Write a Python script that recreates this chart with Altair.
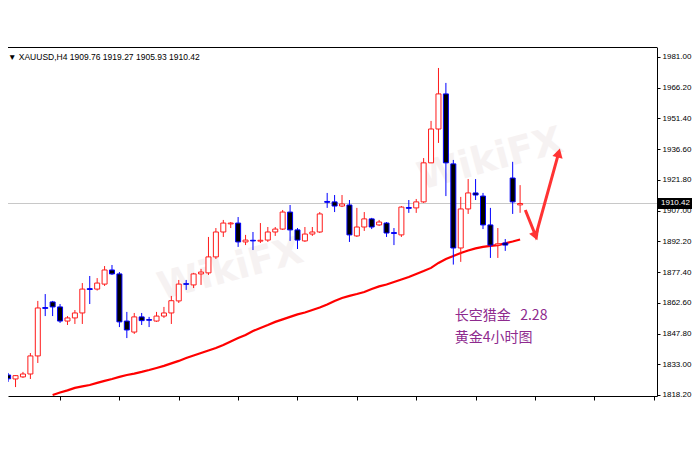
import altair as alt
import pandas as pd

# ---- data ----
opens = [1831.2, 1827.8, 1825.9, 1826.9, 1828.3, 1837.0, 1860.3, 1863.0, 1860.6, 1853.8,
         1855.3, 1857.7, 1869.4, 1869.2, 1871.6, 1878.4, 1876.5, 1853.8, 1848.5, 1855.8,
         1854.5, 1853.8, 1856.2, 1857.7, 1863.5, 1871.8, 1871.2, 1876.5, 1877.0, 1884.7,
         1896.7, 1900.6, 1901.0, 1891.9, 1892.7, 1892.3, 1892.8, 1896.7, 1898.1, 1906.3,
         1897.7, 1892.4, 1895.7, 1896.7, 1911.4, 1911.2, 1909.2, 1909.7, 1894.8, 1899.1,
         1903.0, 1900.1, 1901.0, 1896.4, 1895.3, 1908.5, 1908.3, 1911.2, 1930.0, 1946.3,
         1963.2, 1929.5, 1889.0, 1907.8, 1915.5, 1914.0, 1900.1, 1890.4, 1891.4, 1922.7,
         1909.76]
highs = [1831.7, 1828.8, 1827.8, 1829.3, 1838.4, 1863.5, 1866.8, 1863.5, 1862.0, 1856.2,
         1859.1, 1872.1, 1875.5, 1874.5, 1880.3, 1880.8, 1877.4, 1858.2, 1857.7, 1857.7,
         1855.8, 1858.2, 1860.6, 1865.9, 1873.6, 1873.6, 1877.0, 1878.9, 1894.3, 1898.6,
         1902.5, 1901.5, 1903.9, 1895.3, 1896.7, 1901.0, 1899.1, 1899.1, 1907.3, 1909.7,
         1898.6, 1899.1, 1899.1, 1906.3, 1915.5, 1914.5, 1914.5, 1912.1, 1908.3, 1906.3,
         1903.5, 1902.5, 1901.5, 1898.6, 1909.2, 1912.1, 1912.6, 1932.3, 1950.2, 1975.7,
         1968.5, 1931.4, 1913.6, 1922.2, 1922.2, 1915.5, 1908.3, 1898.6, 1893.3, 1930.5,
         1919.27]
lows = [1826.4, 1824.5, 1822.0, 1826.4, 1825.9, 1833.6, 1856.2, 1856.2, 1852.9, 1851.9,
        1852.4, 1852.4, 1862.0, 1868.5, 1870.7, 1876.0, 1850.9, 1845.6, 1847.6, 1851.9,
        1850.9, 1853.4, 1855.3, 1852.4, 1862.5, 1868.8, 1869.7, 1871.2, 1876.0, 1883.7,
        1894.3, 1898.6, 1889.5, 1890.4, 1888.0, 1891.4, 1891.9, 1894.8, 1897.7, 1892.4,
        1888.5, 1891.9, 1894.8, 1896.2, 1908.3, 1906.3, 1908.7, 1891.9, 1894.3, 1897.2,
        1898.1, 1899.6, 1894.3, 1890.4, 1894.3, 1905.9, 1905.9, 1910.7, 1929.9, 1939.6,
        1914.0, 1881.0, 1882.3, 1905.4, 1912.1, 1898.1, 1884.2, 1884.2, 1887.6, 1905.4,
        1905.93]
closes = [1827.3, 1826.0, 1827.5, 1828.3, 1837.0, 1860.1, 1859.9, 1860.6, 1853.8, 1855.3,
          1857.7, 1869.2, 1869.0, 1872.1, 1878.4, 1876.5, 1853.4, 1849.5, 1855.8, 1854.0,
          1854.2, 1856.2, 1857.7, 1863.6, 1871.6, 1871.5, 1876.5, 1877.4, 1884.7, 1896.7,
          1901.0, 1901.0, 1891.9, 1892.8, 1892.4, 1892.7, 1896.7, 1898.1, 1906.3, 1897.7,
          1892.8, 1895.7, 1896.7, 1905.4, 1911.0, 1909.2, 1910.2, 1895.3, 1899.1, 1903.0,
          1899.1, 1901.5, 1896.2, 1896.0, 1908.7, 1908.1, 1911.2, 1930.0, 1946.3, 1963.2,
          1930.0, 1889.0, 1907.8, 1915.5, 1914.5, 1900.1, 1890.4, 1891.0, 1890.4, 1911.2,
          1910.42]

ma_start = 7
ma_vals = [1818.2, 1819.4, 1820.4, 1821.6, 1822.3, 1823.0, 1824.0, 1825.0, 1825.9, 1826.9,
           1827.8, 1828.5, 1829.3, 1830.2, 1831.2, 1832.2, 1833.4, 1834.6, 1836.0, 1837.2,
           1838.4, 1839.6, 1840.8, 1842.3, 1844.0, 1845.6, 1847.1, 1849.0, 1850.5, 1851.9,
           1853.4, 1854.6, 1855.8, 1857.0, 1857.9, 1859.1, 1860.3, 1861.8, 1863.5, 1864.9,
           1865.9, 1866.8, 1867.8, 1869.2, 1870.5, 1871.4, 1872.6, 1873.8, 1875.0, 1876.5,
           1877.9, 1879.4, 1881.8, 1883.7, 1885.1, 1886.6, 1887.8, 1888.8, 1889.5, 1890.0,
           1890.4, 1891.2, 1892.1, 1893.1]

y_ticks = [1818.2, 1833.0, 1847.8, 1862.6, 1877.4, 1892.2, 1907.0, 1921.8, 1936.6,
           1951.4, 1966.2, 1981.0]
x_ticks = [8, 16, 24, 32, 40, 48, 56, 64, 72, 80, 88]
last_price = 1910.42
title_text = "▼ XAUUSD,H4  1909.76 1919.27 1905.93 1910.42"

arrow_x = [70.7, 72.1, 75.2]
arrow_y = [1907.3, 1894.8, 1934.8]
head_angles = [158, 15]

note_lines = ["长空猎金\u00a0\u00a0\u00a02.28", "黄金4小时图"]
note_x = [61.2, 61.2]
note_y = [1856.2, 1845.6]

wm_text = ["WikiFX", "WikiFX"]
wm_x = [31.0, 66.0]
wm_y = [1878.4, 1931.4]

# ---- tables ----
W, H = 649, 349
xdom = [0.984, 88.45]
ydom = [1817.7, 1985.8]

df = pd.DataFrame({"i": list(range(len(opens))), "open": opens, "high": highs,
                   "low": lows, "close": closes})
df["dir"] = ["up" if c >= o else "down" for o, c in zip(opens, closes)]
ma_df = pd.DataFrame({"i": list(range(ma_start, ma_start + len(ma_vals))), "ma": ma_vals})
arrow_df = pd.DataFrame({"x": arrow_x, "y": arrow_y, "o": [0, 1, 2]})
head_df = pd.DataFrame({"x": arrow_x[1:], "y": arrow_y[1:], "a": head_angles})
note_df = pd.DataFrame({"x": note_x, "y": note_y, "t": note_lines})
wm_df = pd.DataFrame({"x": wm_x, "y": wm_y, "t": wm_text})
price_df = pd.DataFrame({"p": [last_price], "lab": [f"{last_price:.2f}"],
                         "p1": [last_price + 2.6], "p2": [last_price - 2.6]})

xs = alt.Scale(domain=xdom, nice=False, zero=False, padding=0)
ys = alt.Scale(domain=ydom, nice=False, zero=False, padding=0)
x_axis = alt.Axis(values=x_ticks, labels=False, tickSize=4, grid=False, domain=True,
                  domainColor="black", tickColor="black", title=None)
y_axis = alt.Axis(orient="right", values=y_ticks, format=".2f", grid=False,
                  tickSize=3, labelPadding=2, labelFontSize=8, labelFont="Liberation Sans",
                  labelColor="black", domainColor="black", tickColor="black", title=None)
X = lambda f: alt.X(f, type="quantitative", scale=xs, axis=x_axis)
Y = lambda f: alt.Y(f, type="quantitative", scale=ys, axis=y_axis)

dir_stroke = alt.Color("dir:N", scale=alt.Scale(domain=["up", "down"], range=["#ff1a1a", "#0000ff"]), legend=None)
dir_fill = alt.Fill("dir:N", scale=alt.Scale(domain=["up", "down"], range=["#ffffff", "#000000"]), legend=None)

watermark = alt.Chart(wm_df).mark_text(fontSize=38, fontWeight="bold", angle=345, color="#f6f2f2",
                                       font="DejaVu Sans").encode(x=X("x"), y=Y("y"), text="t:N")

top_border = alt.Chart(price_df).mark_rule(color="black", strokeWidth=1).encode(
    x=alt.value(0), x2=alt.value(W), y=alt.value(0.5))

price_line = alt.Chart(price_df).mark_rule(color="#c8c8c8", strokeWidth=1).encode(
    y=Y("p"), x=alt.value(0), x2=alt.value(W))

ma_line = alt.Chart(ma_df).mark_line(color="#ff0000", strokeWidth=2.2, clip=True).encode(x=X("i"), y=Y("ma"))

wicks = alt.Chart(df).mark_rule(strokeWidth=1, clip=True).encode(
    x=X("i"), y=Y("low"), y2="high", color=dir_stroke)

bodies = alt.Chart(df).mark_bar(size=5, strokeWidth=1, clip=True).encode(
    x=X("i"), y=Y("open"), y2="close", fill=dir_fill, stroke=dir_stroke)

arrow = alt.Chart(arrow_df).mark_line(color="#ff3333", strokeWidth=3).encode(
    x=X("x"), y=Y("y"), order="o:Q")
heads = alt.Chart(head_df).mark_point(shape="triangle-up", filled=True, size=110, color="#ff3333",
                                      opacity=1).encode(x=X("x"), y=Y("y"), angle=alt.Angle("a:Q", scale=None))

notes = alt.Chart(note_df).mark_text(align="left", fontSize=14, color="#8e2a8e",
                                     font="Noto Sans CJK SC").encode(x=X("x"), y=Y("y"), text="t:N")

title = alt.Chart(price_df).mark_text(align="left", baseline="middle", fontSize=8.5, color="black",
                                      font="Liberation Sans").encode(
    x=alt.value(0), y=alt.value(10), text=alt.value(title_text))

price_box = alt.Chart(price_df).mark_rect(color="black", clip=False).encode(
    x=alt.value(W + 1), x2=alt.value(W + 35), y=Y("p1"), y2="p2")
price_lab = alt.Chart(price_df).mark_text(align="left", baseline="middle", fontSize=8, color="white",
                                          font="Liberation Sans").encode(
    x=alt.value(W + 4), y=Y("p"), text="lab:N")

chart = alt.layer(watermark, top_border, price_line, ma_line, wicks, bodies, arrow, heads, notes, title,
                  price_box, price_lab).properties(
    width=W, height=H, autosize=alt.AutoSizeParams(type="none"),
    padding={"left": 0, "top": 39, "right": 35, "bottom": 46},
    background="white",
).configure_view(strokeWidth=0)

chart.save("out.html", embed_options={"renderer": "svg", "actions": False})
